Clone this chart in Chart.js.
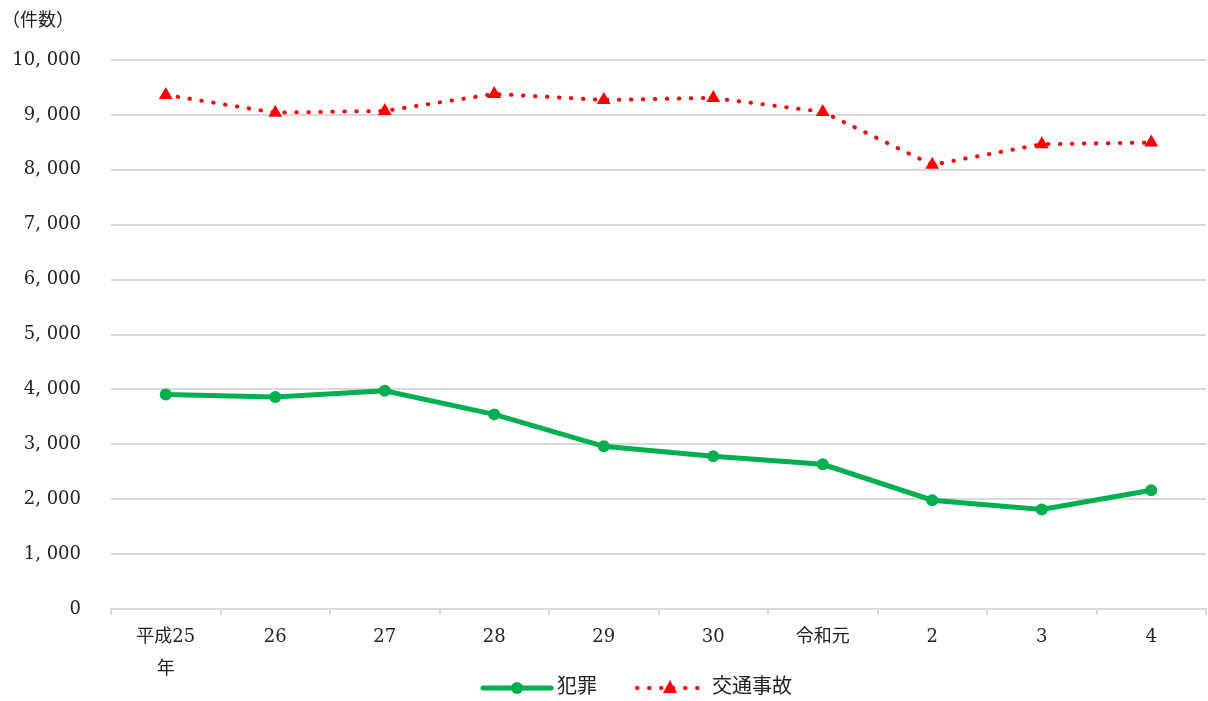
<!DOCTYPE html>
<html lang="ja">
<head>
    <meta charset="UTF-8">
    <title>犯罪・交通事故 件数の推移</title>
    <script src="https://cdn.jsdelivr.net/npm/chart.js"></script>
    <style>
        html, body { margin: 0; padding: 0; background: #fff; overflow: hidden; }
        #wrap { position: relative; width: 1208px; height: 701px; overflow: hidden; }
        #unit { position: absolute; left: 2px; top: 5px; font: 18px "DejaVu Serif", "Noto Sans CJK JP", serif; color: #222; }
        canvas { display: block; }
    </style>
</head>
<body>
    <div id="wrap">
        <div id="unit">（件数）</div>
        <canvas id="grafico" width="1214" height="701"></canvas>
    </div>

    <script>
        // データ
        const categorias = [['平成25', '年'], '26', '27', '28', '29', '30', '令和元', '2', '3', '4'];
        const hanzai = [3905, 3860, 3976, 3545, 2964, 2782, 2636, 1982, 1812, 2164];
        const koutsuJiko = [9364, 9040, 9073, 9382, 9273, 9309, 9055, 8091, 8467, 8496];
        const yTicks = [0, 1000, 2000, 3000, 4000, 5000, 6000, 7000, 8000, 9000, 10000];

        const FONT = '"DejaVu Serif", "Noto Sans CJK JP", serif';
        const VERDE = '#00b050';
        const VERMELHO = '#ff0000';

        // 凡例（線＋マーカー）を手描き
        const legendaPlugin = {
            id: 'legendaLinha',
            afterDraw(chart) {
                const ctx = chart.ctx;
                const y = 688;
                ctx.save();
                // 犯罪
                ctx.strokeStyle = VERDE;
                ctx.lineWidth = 5;
                ctx.lineCap = 'round';
                ctx.beginPath();
                ctx.moveTo(483, y);
                ctx.lineTo(551, y);
                ctx.stroke();
                ctx.fillStyle = VERDE;
                ctx.beginPath();
                ctx.arc(517, y, 6, 0, Math.PI * 2);
                ctx.fill();
                ctx.fillStyle = '#222';
                ctx.font = '20px ' + FONT;
                ctx.textBaseline = 'middle';
                ctx.fillText('犯罪', 557, y);
                // 交通事故
                ctx.strokeStyle = VERMELHO;
                ctx.lineWidth = 4;
                ctx.setLineDash([0.5, 11.5]);
                ctx.beginPath();
                ctx.moveTo(637, y);
                ctx.lineTo(705, y);
                ctx.stroke();
                ctx.setLineDash([]);
                ctx.fillStyle = VERMELHO;
                ctx.beginPath();
                ctx.moveTo(670, y - 8);
                ctx.lineTo(677, y + 5);
                ctx.lineTo(663, y + 5);
                ctx.closePath();
                ctx.fill();
                ctx.fillStyle = '#222';
                ctx.fillText('交通事故', 712, y);
                ctx.restore();
            }
        };

        const ctx = document.getElementById('grafico').getContext('2d');
        new Chart(ctx, {
            type: 'line',
            data: {
                labels: categorias,
                datasets: [{
                    label: '犯罪',
                    data: hanzai,
                    borderColor: VERDE,
                    backgroundColor: VERDE,
                    borderWidth: 5,
                    pointRadius: 6,
                    pointHoverRadius: 6,
                    pointBorderWidth: 0,
                    tension: 0
                }, {
                    label: '交通事故',
                    data: koutsuJiko,
                    borderColor: VERMELHO,
                    backgroundColor: VERMELHO,
                    borderWidth: 4,
                    borderDash: [0.5, 11.5],
                    borderCapStyle: 'round',
                    pointStyle: 'triangle',
                    pointRadius: 8,
                    pointHoverRadius: 8,
                    pointBorderWidth: 0,
                    tension: 0
                }]
            },
            options: {
                responsive: false,
                animation: false,
                layout: { padding: { top: 60, right: 0, bottom: 9, left: 0 } },
                plugins: {
                    legend: { display: false },
                    tooltip: { enabled: false }
                },
                scales: {
                    x: {
                        offset: true,
                        grid: { offset: true, drawOnChartArea: false, color: '#d9d9d9', tickLength: 6, lineWidth: 2 },
                        border: { color: '#d9d9d9', width: 2 },
                        ticks: { color: '#222', font: { family: FONT, size: 18, lineHeight: 1.75 }, padding: 7, maxRotation: 0, autoSkip: false }
                    },
                    y: {
                        min: 0,
                        max: 10000,
                        afterBuildTicks: axis => { axis.ticks = yTicks.map(v => ({ value: v })); },
                        afterFit: axis => { axis.width = 111; },
                        grid: { color: '#d9d9d9', lineWidth: 2, drawTicks: false },
                        border: { display: false },
                        ticks: {
                            color: '#222',
                            font: { family: FONT, size: 18 },
                            padding: 30,
                            callback: v => v.toLocaleString('en-US').replace(',', ', ')
                        }
                    }
                }
            },
            plugins: [legendaPlugin]
        });
    </script>
</body>
</html>
